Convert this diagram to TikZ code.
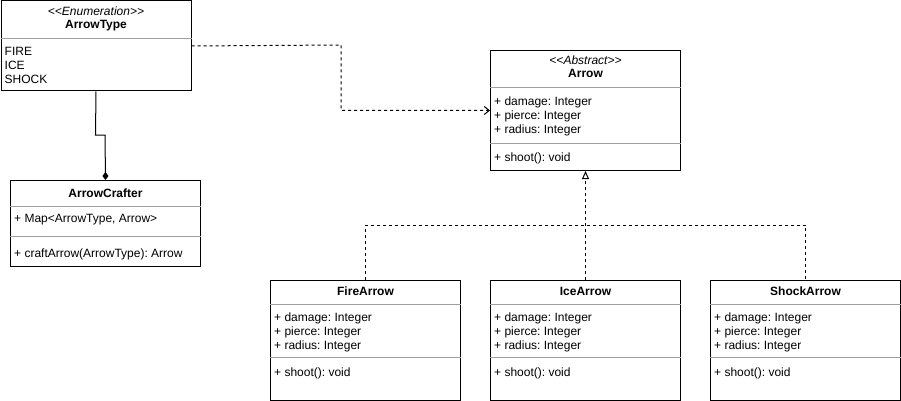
\documentclass[tikz,border=0pt]{standalone}
\usepackage{fontspec}
\setmainfont{Liberation Sans}
\usetikzlibrary{arrows.meta,positioning,calc}
\definecolor{sepg}{HTML}{A0A0A0}
\frenchspacing

\begin{document}
\begin{tikzpicture}[x=1pt,y=-1pt,
  font=\fontsize{12pt}{14pt}\selectfont,
  cls/.style={draw,line width=1pt,anchor=north west,minimum width=190pt,inner sep=0pt},
  sep/.style={sepg,line width=1pt},
  txt/.style={inner sep=0pt,anchor=north west,align=left},
  ttl/.style={inner sep=0pt,anchor=base,font=\fontsize{12pt}{14pt}\selectfont\bfseries},
  stereo/.style={inner sep=0pt,anchor=base,font=\fontsize{12pt}{14pt}\selectfont\itshape},
  dep/.style={line width=1pt,dash pattern=on 3pt off 3pt,-{Straight Barb[length=5pt,width=8pt]}},
  real/.style={line width=1pt,dash pattern=on 3pt off 3pt},
  comp/.style={line width=1pt,-{Diamond[length=8pt,width=6pt]}}]
  \useasboundingbox (0,0) rectangle (901,401);

  % enumeration
  \node[cls,minimum height=90pt] (atype) at (0.5,0.5) {};
  \node[stereo] (atype-st) at ([yshift=-15pt]atype.north) {{<}{<}Enumeration{>}{>}};
  \node[ttl] (atype-name) at ([yshift=-28pt]atype.north) {ArrowType};
  \draw[sep] ([yshift=-38pt]atype.north west) -- ([yshift=-38pt]atype.north east);
  \node[txt] (atype-lit) at ([shift={(4pt,-47pt)}]atype.north west) {FIRE\\ICE\\SHOCK};

  % abstract base
  \node[cls,minimum height=120pt] (arrow) at (490,50) {};
  \node[stereo] (arrow-st) at ([yshift=-15pt]arrow.north) {{<}{<}Abstract{>}{>}};
  \node[ttl] (arrow-name) at ([yshift=-28pt]arrow.north) {Arrow};
  \draw[sep] ([yshift=-38pt]arrow.north west) -- ([yshift=-38pt]arrow.north east);
  \node[txt] (arrow-attr) at ([shift={(4pt,-47pt)}]arrow.north west) {+ damage: Integer\\+ pierce: Integer\\+ radius: Integer};
  \draw[sep] ([yshift=-93pt]arrow.north west) -- ([yshift=-93pt]arrow.north east);
  \node[txt] (arrow-op) at ([shift={(4pt,-103pt)}]arrow.north west) {+ shoot(): void};

  % crafter
  \node[cls,minimum height=86pt] (crafter) at (10,180) {};
  \node[ttl] (crafter-name) at ([yshift=-17pt]crafter.north) {ArrowCrafter};
  \draw[sep] ([yshift=-26pt]crafter.north west) -- ([yshift=-26pt]crafter.north east);
  \node[txt] (crafter-attr) at ([shift={(4pt,-34.5pt)}]crafter.north west) {+ Map<ArrowType, Arrow>};
  \draw[sep] ([yshift=-56pt]crafter.north west) -- ([yshift=-56pt]crafter.north east);
  \node[txt] (crafter-op) at ([shift={(4pt,-68.5pt)}]crafter.north west) {+ craftArrow(ArrowType): Arrow};

  % subclasses
  \foreach \n/\x/\t in {fire/270/FireArrow,ice/490/IceArrow,shock/710/ShockArrow} {
    \node[cls,minimum height=120pt] (\n) at (\x,280) {};
    \node[ttl] (\n-name) at ([yshift=-15pt]\n.north) {\t};
    \draw[sep] ([yshift=-24pt]\n.north west) -- ([yshift=-24pt]\n.north east);
    \node[txt] (\n-attr) at ([shift={(4pt,-33pt)}]\n.north west) {+ damage: Integer\\+ pierce: Integer\\+ radius: Integer};
    \draw[sep] ([yshift=-77pt]\n.north west) -- ([yshift=-77pt]\n.north east);
    \node[txt] (\n-op) at ([shift={(4pt,-88pt)}]\n.north west) {+ shoot(): void};
  }

  % connectors
  \coordinate (bend) at (341,45);
  \draw[dep] (atype.east) -- (bend) |- (arrow.west);
  \coordinate (c1) at (95.5,135);
  \coordinate (c2) at (105,135);
  \draw[comp] (atype.south) -- (c1) -- (c2) -- (crafter.north);
  \coordinate (bus) at (585,225);
  \draw[real] (fire.north) |- (bus) -| (shock.north);
  \draw[real,-{Triangle[open,length=8pt,width=7pt]}] (ice.north) -- (arrow.south);
\end{tikzpicture}
\end{document}
